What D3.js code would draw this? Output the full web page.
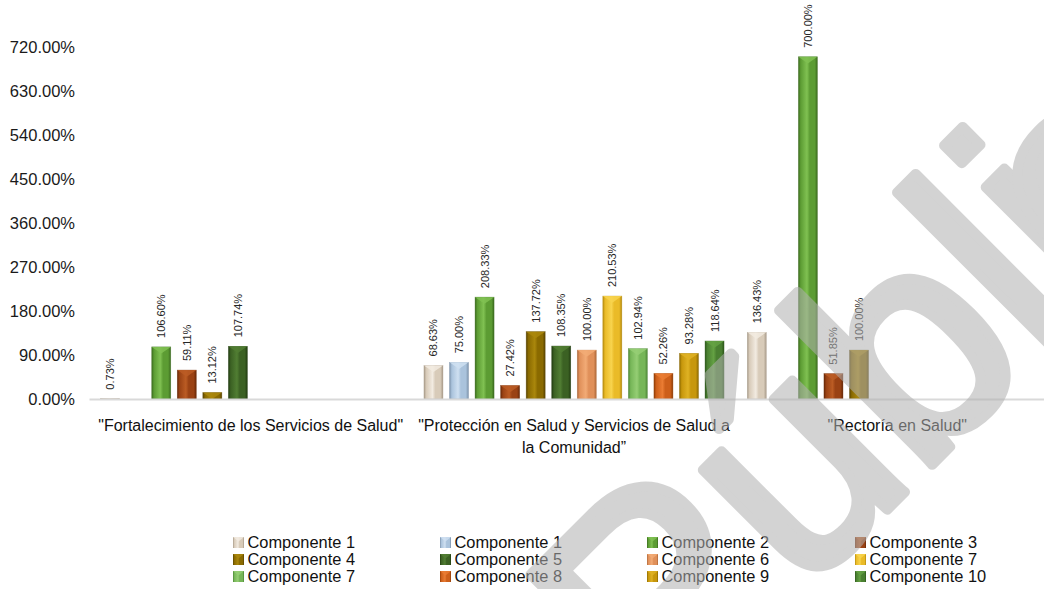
<!DOCTYPE html>
<html><head><meta charset="utf-8">
<script src="https://cdn.jsdelivr.net/npm/d3@7"></script>
<style>
html,body{margin:0;padding:0;background:#fff;}
text{font-family:"Liberation Sans",Arial,sans-serif;}
</style></head>
<body>
<svg id="chart" width="1044" height="589"></svg>
<script>
// ---- data ----
const categories = ['"Fortalecimiento de los Servicios de Salud"', '"Protección en Salud y Servicios de Salud a la Comunidad”', '"Rectoría en Salud"'];
const seriesNames = ["Componente 1","Componente 1","Componente 2","Componente 3","Componente 4","Componente 5","Componente 6","Componente 7","Componente 7","Componente 8","Componente 9","Componente 10"];
const comp1a  = [0.73, 68.63, 136.43];
const comp1b  = [null, 75.00, null];
const comp2   = [106.60, 208.33, 700.00];
const comp3   = [59.11, 27.42, 51.85];
const comp4   = [13.12, 137.72, 100.00];
const comp5   = [107.74, 108.35, null];
const comp6   = [null, 100.00, null];
const comp7a  = [null, 210.53, null];
const comp7b  = [null, 102.94, null];
const comp8   = [null, 52.26, null];
const comp9   = [null, 93.28, null];
const comp10  = [null, 118.64, null];
const seriesValues = [comp1a, comp1b, comp2, comp3, comp4, comp5, comp6, comp7a, comp7b, comp8, comp9, comp10];
const yTicks = [0, 90, 180, 270, 360, 450, 540, 630, 720];
const watermarkParts = ["Públi", "co"];

// colours: [dark edge, base, light centre]
const seriesColors = [
  ["#a89b8a","#d8cbb9","#f2ebe1"],
  ["#7b91a9","#aac3dc","#cfe0f1"],
  ["#3b6a1e","#5c9c33","#80c152"],
  ["#682807","#9a4214","#bb5c24"],
  ["#5a4400","#8a6a00","#aa870c"],
  ["#213b10","#3b6123","#517e33"],
  ["#ad683a","#e0905a","#f2ab76"],
  ["#b48a0e","#eabb28","#f8d44e"],
  ["#4c8636","#76b658","#95ce74"],
  ["#903d07","#cd5f1a","#ea7c33"],
  ["#8a6800","#c7970c","#dfb224"],
  ["#2d581b","#4a8031","#64a143"]
];

// ---- layout ----
const svg = d3.select("#chart");
const plotLeft = 89, plotRight = 1059, plotTop = 47, plotBottom = 399;

const x0 = d3.scaleBand().domain(d3.range(categories.length)).range([plotLeft, plotRight]).paddingInner(0).paddingOuter(0);
const x1 = d3.scaleBand().domain(d3.range(seriesNames.length)).range([0, x0.bandwidth()]).paddingInner(0.256).paddingOuter(0.455);
const y = d3.scaleLinear().domain([0, 720]).range([plotBottom, plotTop]);

// gradients
const defs = svg.append("defs");
seriesColors.forEach((c, i) => {
  const g = defs.append("linearGradient").attr("id", "grad" + i).attr("x1", "0").attr("x2", "1").attr("y1", "0").attr("y2", "0");
  [[0, c[0]], [0.12, c[1]], [0.45, c[2]], [0.6, c[1]], [0.86, c[1]], [1, c[0]]].forEach(s =>
    g.append("stop").attr("offset", s[0]).attr("stop-color", s[1]));
});

// y axis labels
const yAxis = d3.axisLeft(y).tickValues(yTicks).tickFormat(d => d.toFixed(2) + "%").tickSize(0).tickPadding(3);
const gy = svg.append("g").attr("transform", `translate(78,0)`).call(yAxis);
gy.select(".domain").remove();
gy.selectAll("text").attr("font-size", 16.5).attr("fill", "#1a1a1a").attr("font-family", '"Liberation Sans",Arial,sans-serif');

// bars
const flat = [];
seriesValues.forEach((arr, s) => arr.forEach((v, c) => { if (v !== null) flat.push({s, c, v}); }));

const bars = svg.append("g").selectAll("g.bar").data(flat).join("g").attr("class", "bar");
bars.append("rect")
  .attr("x", d => x0(d.c) + x1(d.s))
  .attr("y", d => y(d.v))
  .attr("width", x1.bandwidth())
  .attr("height", d => y(0) - y(d.v))
  .attr("fill", d => `url(#grad${d.s})`)
  .attr("stroke", d => seriesColors[d.s][0]).attr("stroke-width", 0.6).attr("stroke-opacity", 0.6);
// top bevel
bars.append("path")
  .attr("d", d => {
    const bx = x0(d.c) + x1(d.s), bw = x1.bandwidth(), by = y(d.v);
    const h = Math.min(bw * 0.35, y(0) - by);
    return `M${bx},${by}L${bx + bw},${by}L${bx + bw / 2},${by + h}Z`;
  })
  .attr("fill", d => seriesColors[d.s][2]).attr("opacity", 0.85);

// value labels
svg.append("g").selectAll("text").data(flat).join("text")
  .attr("transform", d => `translate(${x0(d.c) + x1(d.s) + x1.bandwidth() / 2 + 4},${y(d.v) - 9}) rotate(-90)`)
  .attr("text-anchor", "start")
  .attr("font-size", 11).attr("fill", "#262626")
  .text(d => d.v.toFixed(2) + "%");

// x axis
const xAxis = d3.axisBottom(x0).tickSize(0).tickSizeOuter(0).tickFormat("");
const gx = svg.append("g").attr("transform", `translate(0,${plotBottom})`).call(xAxis);
gx.select(".domain").attr("stroke", "#d9d9d9").attr("stroke-width", 2);

// category labels with wrapping
function wrapLines(text, maxW, size) {
  const tmp = svg.append("text").attr("font-size", size);
  const words = text.split(" ");
  const lines = []; let line = "";
  words.forEach(w => {
    const test = line ? line + " " + w : w;
    tmp.text(test);
    if (tmp.node().getComputedTextLength() > maxW && line) { lines.push(line); line = w; }
    else line = test;
  });
  lines.push(line);
  tmp.remove();
  return lines;
}
categories.forEach((c, i) => {
  const lines = wrapLines(c, 321, 16);
  const t = svg.append("text").attr("text-anchor", "middle").attr("font-size", 16).attr("fill", "#111");
  lines.forEach((l, k) => t.append("tspan").attr("x", x0(i) + x0.bandwidth() / 2).attr("y", 431 + k * 22).text(l));
});

// legend
const legX = [233, 440, 647, 855], legY = [542.5, 559.5, 576.5];
const leg = svg.append("g").selectAll("g").data(seriesNames).join("g")
  .attr("transform", (d, i) => `translate(${legX[i % 4]},${legY[Math.floor(i / 4)]})`);
leg.append("rect").attr("x", 0).attr("y", -5.5).attr("width", 11).attr("height", 11)
  .attr("fill", (d, i) => `url(#grad${i})`);
leg.append("path").attr("d", "M0,-5.5L11,-5.5L5.5,-1Z").attr("fill", (d, i) => seriesColors[i][2]).attr("opacity", 0.8);
leg.append("text").attr("x", 14.5).attr("y", 0).attr("dy", "0.35em").attr("font-size", 16.4).attr("fill", "#111").text(d => d);

// watermark
const wm = svg.append("text")
  .attr("transform", "translate(659,738) rotate(-45)")
  .attr("font-size", 300)
  .attr("font-family", '"Liberation Sans",Arial,sans-serif')
  .attr("fill", "#b0b0b0").attr("stroke", "#b0b0b0").attr("stroke-width", 10).attr("stroke-linejoin", "round")
  .attr("opacity", 0.55);
wm.append("tspan").text(watermarkParts[0]);
wm.append("tspan").attr("dx", -50).text(watermarkParts[1]);
</script>
</body></html>
